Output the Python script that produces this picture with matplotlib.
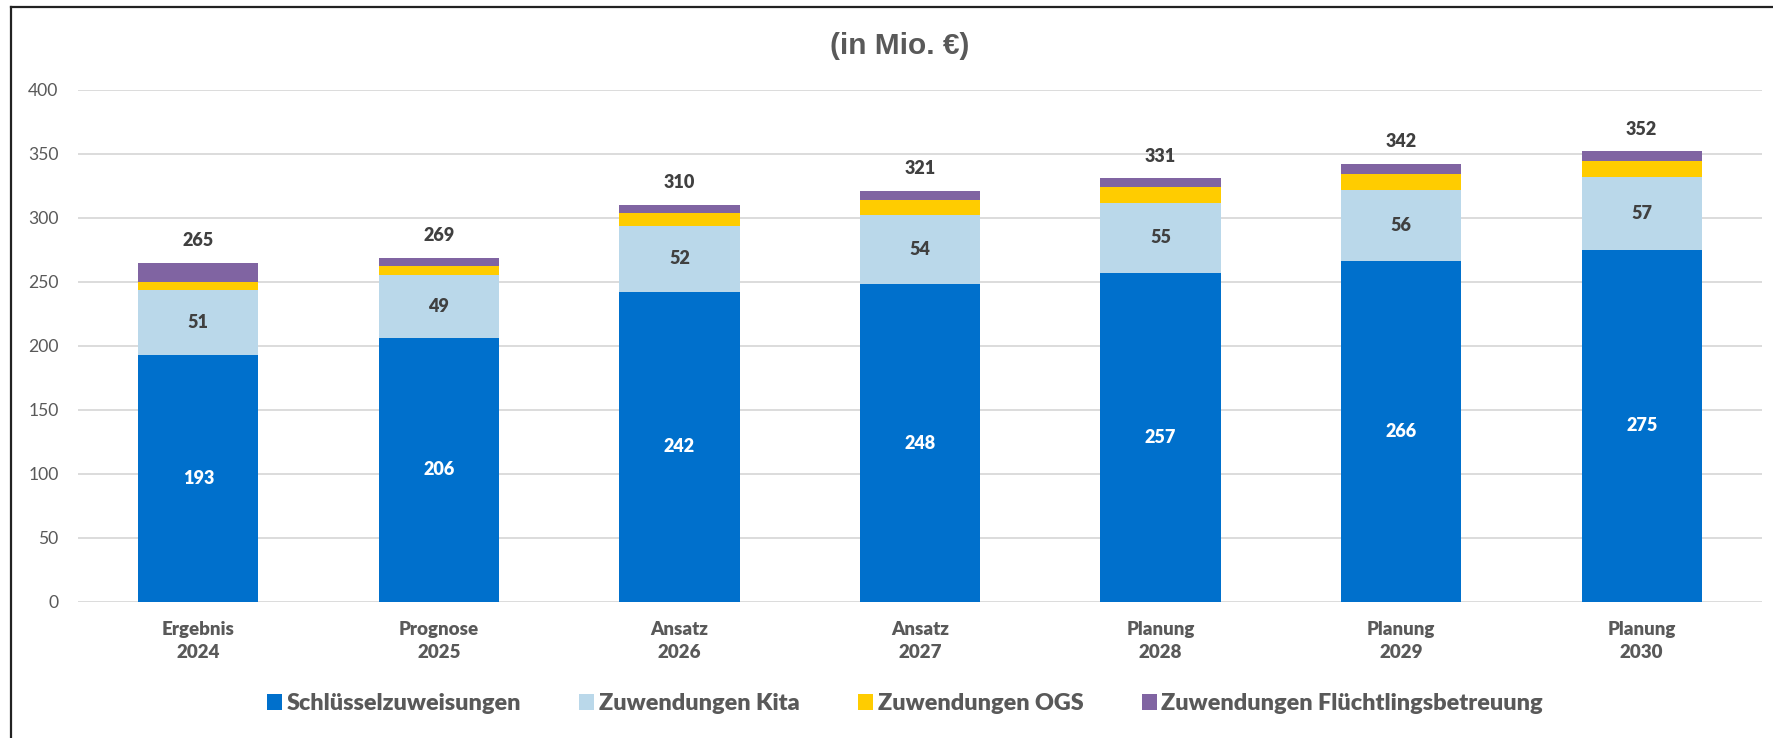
import matplotlib
matplotlib.use("Agg")
import matplotlib.pyplot as plt
from matplotlib.lines import Line2D
from matplotlib.patches import Patch
import numpy as np

categories = ["Ergebnis\n2024", "Prognose\n2025", "Ansatz\n2026", "Ansatz\n2027",
              "Planung\n2028", "Planung\n2029", "Planung\n2030"]
schluessel = [193, 206, 242, 248, 257, 266, 275]
kita = [51, 49, 52, 54, 55, 56, 57]
ogs = [6, 7.5, 9.7, 12, 12, 12.5, 12.5]
fluecht = [15, 6, 6.5, 7, 7, 7.5, 7.5]
totals = [265, 269, 310, 321, 331, 342, 352]
series_names = ["Schlüsselzuweisungen", "Zuwendungen Kita", "Zuwendungen OGS",
                "Zuwendungen Flüchtlingsbetreuung"]
colors = ["#0070CC", "#BAD8EA", "#FFCC00", "#8064A2"]

W, H, DPI = 1773, 738, 100
fig = plt.figure(figsize=(W / DPI, H / DPI), dpi=DPI)
font = "Lato"
grey = "#595959"
dark = "#404040"
bold = "heavy"

ax = fig.add_axes([78 / W, 1 - 601.7 / H, (1762 - 78) / W, (601.7 - 90) / H])
x = np.arange(len(categories))
bw = 0.5
bottom = np.zeros(len(categories))
series = [schluessel, kita, ogs, fluecht]
for vals, col, name in zip(series, colors, series_names):
    vals = np.array(vals, dtype=float)
    ax.bar(x, vals, bw, bottom=bottom, color=col, label=name, zorder=3)
    bottom += vals

# data labels
for i in range(len(categories)):
    ax.text(x[i], schluessel[i] / 2, f"{schluessel[i]}", ha="center", va="center",
            color="white", fontsize=13, fontweight=bold, family=font, zorder=4)
    ax.text(x[i], schluessel[i] + kita[i] / 2, f"{kita[i]}", ha="center", va="center",
            color=dark, fontsize=13, fontweight=bold, family=font, zorder=4)
    ax.annotate(f"{totals[i]}", (x[i], bottom[i]), xytext=(0, 16), textcoords="offset points",
                ha="center", va="center", color=dark, fontsize=13,
                fontweight=bold, family=font, zorder=4)

ax.set_xlim(-0.5, len(categories) - 0.5)
ax.set_ylim(0, 400)
ax.set_yticks(np.arange(0, 401, 50))
ax.yaxis.grid(True, color="#D9D9D9", linewidth=1.3, zorder=0)
ax.set_axisbelow(True)
for s in ax.spines.values():
    s.set_visible(False)
ax.tick_params(axis="both", length=0)
ax.tick_params(axis="y", pad=14, labelsize=12.6, labelcolor=grey)
ax.tick_params(axis="x", pad=14, labelsize=13.5, labelcolor=grey)
for lbl in ax.get_yticklabels():
    lbl.set_family(font)
ax.set_xticks(x)
ax.set_xticklabels(categories, fontweight=bold, family=font, linespacing=1.42)

# title
fig.text(900 / W, 1 - 46 / H, "(in Mio. €)", ha="center", va="center",
         fontsize=21.5, fontweight="bold", color=grey, family="Liberation Sans")

# legend
handles = [Patch(facecolor=c, edgecolor="none") for c in colors]
leg = fig.legend(handles, series_names, loc="center", bbox_to_anchor=(905 / W, 1 - 704 / H),
                 ncol=4, frameon=False, handlelength=0.64, handleheight=0.66,
                 handletextpad=0.2, columnspacing=2.5,
                 prop={"family": font, "weight": bold, "size": 16.8})
for t in leg.get_texts():
    t.set_color(grey)

# frame lines (top and left)
fig.add_artist(Line2D([11 / W, 1], [1 - 7 / H, 1 - 7 / H], transform=fig.transFigure,
                      color="#222222", linewidth=1.6))
fig.add_artist(Line2D([11 / W, 11 / W], [0, 1 - 7 / H], transform=fig.transFigure,
                      color="#222222", linewidth=1.6))

fig.savefig("out.png", dpi=DPI, facecolor="white")
